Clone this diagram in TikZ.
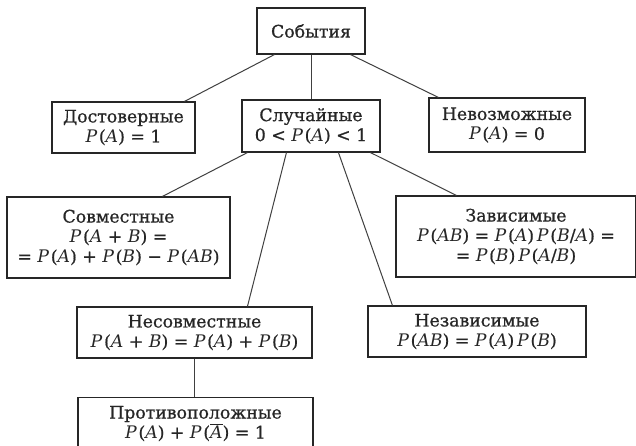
\documentclass[tikz,border=0pt]{standalone}
\usepackage{fontspec}
\setmainfont{DejaVu Serif}[AutoFakeBold=0.8]
\usetikzlibrary{calc}
\newcommand\pr[1]{\textit{P}\kern1.5pt(#1)}
\newcommand\vA{\textit{A}}
\newcommand\vB{\textit{B}}
\newcommand\vAbar{$\overline{\hbox{\textit{A}}}$}
\tikzset{
  box/.style={draw=black!85, line width=1.1pt, fill=white, inner sep=0pt, align=center,
    font=\fontsize{17.3}{20}\selectfont\bfseries, text=black!85},
  link/.style={draw=black!75, line width=1pt}
}
\begin{document}
\begin{tikzpicture}[x=1pt,y=-1pt]
\useasboundingbox[fill=white] (0,0) rectangle (636,446);
\begin{scope}
\clip (0,0) rectangle (636,446);
\node[box, minimum width=108, minimum height=46] (sob) at (311,31) {События};
\node[box, minimum width=143, minimum height=51] (dost) at (123.5,127.5) {Достоверные\\ \pr{\vA} = 1};
\node[box, minimum width=138, minimum height=52] (sluch) at (311,126) {Случайные\\ 0 < \pr{\vA} < 1};
\node[box, minimum width=156, minimum height=54] (nevoz) at (507,125) {Невозможные\\ \pr{\vA} = 0};
\node[box, minimum width=223, minimum height=81] (sovm) at (118.5,237.5) {Совместные\\ \pr{\vA\ + \vB} =\\ = \pr{\vA} + \pr{\vB} − \pr{\textit{AB}}};
\node[box, minimum width=240, minimum height=81] (zavis) at (516,236.5) {Зависимые\\ \pr{\textit{AB}} = \pr{\vA}\,\pr{\vB/\vA} =\\ = \pr{\vB}\,\pr{\vA/\vB}};
\node[box, minimum width=235, minimum height=51] (nesovm) at (194.5,332.5) {Несовместные\\ \pr{\vA\ + \vB} = \pr{\vA} + \pr{\vB}};
\node[box, minimum width=218, minimum height=51] (nezav) at (477,331.5) {Независимые\\ \pr{\textit{AB}} = \pr{\vA}\,\pr{\vB}};
\node[box, minimum width=235, minimum height=52, anchor=north] (protiv) at (195.5,397) {Противоположные\\ \pr{\vA} + \pr{\vAbar} = 1};
\end{scope}
\draw[link] ($(sob.south west)+(18,0)$) -- ($(dost.north west)+(133,0)$);
\draw[link] (sob.south) -- (sluch.north);
\draw[link] ($(sob.south west)+(94,0)$) -- ($(nevoz.north west)+(10,0)$);
\draw[link] ($(sluch.south west)+(6,0)$) -- ($(sovm.north west)+(156,0)$);
\draw[link] ($(sluch.south west)+(45,0)$) -- ($(nesovm.north west)+(171,0)$);
\draw[link] ($(sluch.south west)+(97,0)$) -- ($(nezav.north west)+(25,0)$);
\draw[link] ($(sluch.south west)+(129,0)$) -- ($(zavis.north west)+(61,0)$);
\draw[link] (nesovm.south) -- (nesovm.south |- protiv.north);
\end{tikzpicture}
\end{document}
